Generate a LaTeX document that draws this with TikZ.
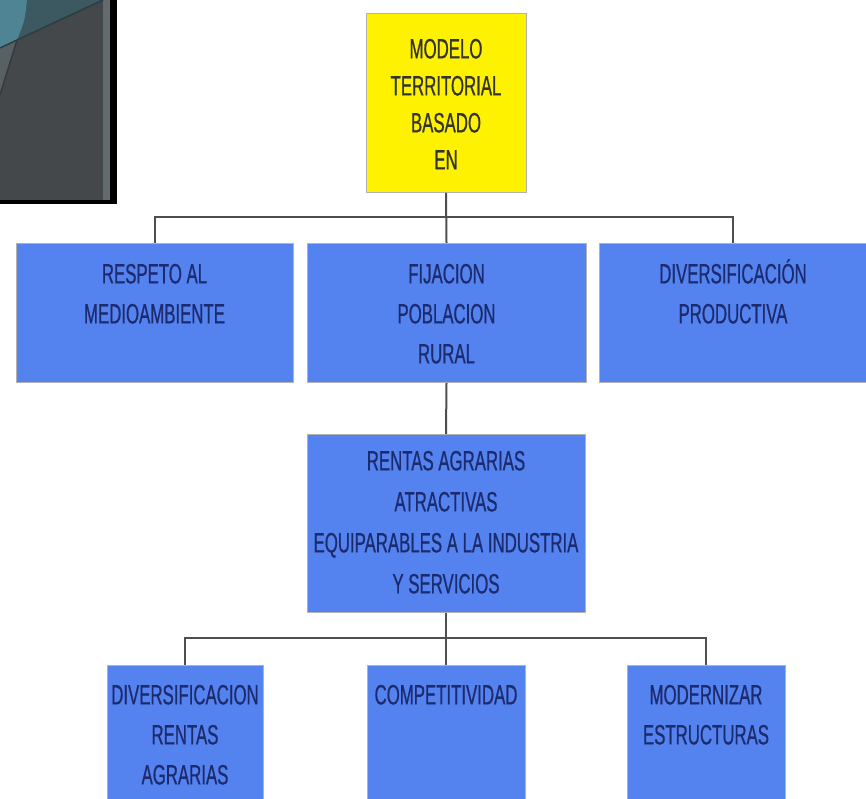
\documentclass[tikz,border=0pt]{standalone}
\usepackage{fontspec}
\usepackage{tikz}
\usetikzlibrary{positioning}
\newfontfamily\boxfont[FakeStretch=0.6, FakeBold=0.6]{Liberation Sans}

\definecolor{boxblue}{RGB}{84,131,240}
\definecolor{boxtext}{RGB}{28,42,110}
\definecolor{linkgray}{RGB}{78,78,78}
\definecolor{panelbg}{RGB}{69,72,75}
\definecolor{panelstrip}{RGB}{98,108,110}
\definecolor{panelgray}{RGB}{88,96,100}
\definecolor{tealpale}{RGB}{78,132,148}
\definecolor{tealdeep}{RGB}{60,88,96}

\begin{document}
\begin{tikzpicture}[x=1pt, y=-1pt,
    box/.style={draw=gray!60, line width=0.8pt, fill=boxblue, text=boxtext,
                anchor=north, inner xsep=0pt, inner ysep=0pt, align=flush center,
                font=\boxfont\fontsize{28}{40}\selectfont},
    rowone/.style={box, text width=#1, text height=40pt, text depth=99pt},
    rowmid/.style={box, text width=#1, text height=36pt, text depth=142pt,
                   font=\boxfont\fontsize{28}{41}\selectfont},
    rowtwo/.style={box, text width=#1, text height=39pt, text depth=110pt},
    rootbox/.style={box, fill=yellow, text=black!80, text width=160pt,
                    text height=45pt, text depth=134pt,
                    font=\boxfont\fontsize{28}{37}\selectfont},
    link/.style={draw=linkgray, line width=2pt},
  ]
    \useasboundingbox (0,0) rectangle (866,799);

    % === slide decoration (top left corner) ===
    \fill[panelbg] (0,0) rectangle (110,200);
    \fill[panelstrip] (103,0) rectangle (110,200);
    \fill[panelgray] (0,48) -- (17,40) -- (0,95) -- cycle;
    \fill[tealdeep] (27,0) -- (103,0) -- (17,40) .. controls (25,20) .. (27,0) -- cycle;
    \fill[tealpale] (0,0) -- (27,0) .. controls (25,20) .. (17,40) -- (0,48) -- cycle;
    \draw[tealdeep!70!black, line width=1.5pt] (0,48) -- (17,40) -- (103,0);
    \draw[panelbg!80!black, line width=1.5pt] (17,40) -- (0,95);
    \fill[black] (110,0) rectangle (117,204);
    \fill[black] (0,200) rectangle (117,204);

    % === root ===
    \node[rootbox] (model) at (446,13)
      {MODELO\\TERRITORIAL\\BASADO\\EN};

    % === first level ===
    \node[rowone=277pt] (resp) at (154.5,243)
      {RESPETO AL\\MEDIOAMBIENTE};
    \node[rowone=279pt] (fij) at (446.5,243)
      {FIJACION\\POBLACION\\RURAL};
    \node[rowone=268pt] (div) at (733,243)
      {DIVERSIFICACIÓN\\PRODUCTIVA};

    % === middle ===
    \node[rowmid=278pt] (rent) at (446,434)
      {RENTAS AGRARIAS\\ATRACTIVAS\\EQUIPARABLES A LA INDUSTRIA\\Y SERVICIOS};

    % === second level ===
    \node[rowtwo=156pt] (divr) at (185,665)
      {DIVERSIFICACION\\RENTAS\\AGRARIAS};
    \node[rowtwo=158pt] (comp) at (446,665)
      {COMPETITIVIDAD};
    \node[rowtwo=158pt] (mod) at (706,665)
      {MODERNIZAR\\ESTRUCTURAS};

    % === connectors ===
    \coordinate (busa) at (446,217);
    \coordinate (busb) at (446,638);
    \draw[link] (model.south) -- (fij.north);
    \draw[link] (resp.north) |- (busa) -| (div.north);
    \draw[link] (fij.south) -- (rent.north);
    \draw[link] (rent.south) -- (comp.north);
    \draw[link] (divr.north) |- (busb) -| (mod.north);
  \end{tikzpicture}
\end{document}
